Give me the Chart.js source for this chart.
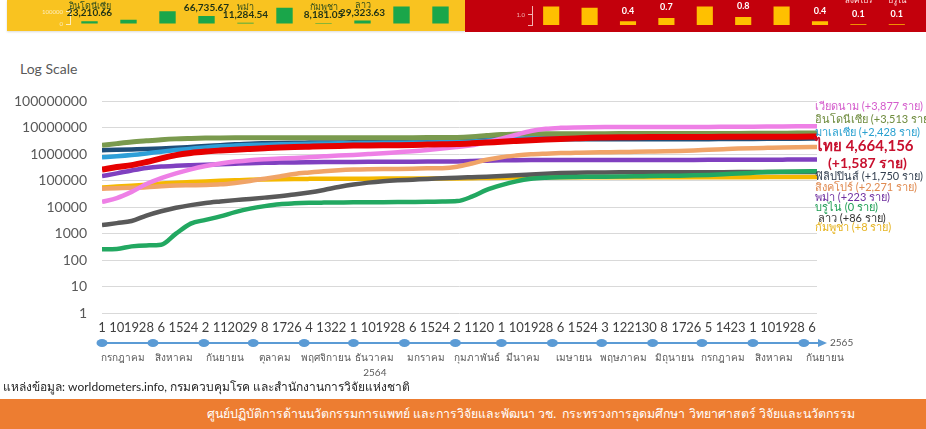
<!DOCTYPE html>
<html lang="th">
<head>
    <meta charset="UTF-8">
    <meta name="viewport" content="width=device-width, initial-scale=1.0">
    <title>ASEAN cumulative cases - Log Scale</title>
    <style>
        body {
            margin: 0;
            padding: 0;
            width: 926px;
            height: 429px;
            position: relative;
            overflow: hidden;
            background-color: #fff;
            font-family: Lato, "Noto Sans", sans-serif;
        }
        #yellowPanel {
            position: absolute;
            left: 7px;
            top: 0;
            width: 458px;
            height: 31px;
            background-color: #f9c320;
            box-shadow: 0 1px 2px rgba(0, 0, 0, 0.15);
        }
        #redPanel {
            position: absolute;
            left: 465px;
            top: 0;
            width: 461px;
            height: 32px;
            background-color: #c3000c;
        }
        #yellowChart { position: absolute; left: 0; top: 0; }
        #redChart { position: absolute; left: 465px; top: 0; }
        #mainChart { position: absolute; left: 0; top: 78px; }
        .title {
            position: absolute;
            left: 20px;
            top: 60px;
            font-size: 14px;
            color: #595959;
        }
        .tag {
            position: absolute;
            left: 815px;
            font-size: 11px;
            line-height: 12px;
            white-space: nowrap;
        }
        .big {
            font-size: 15px;
            line-height: 18px;
            font-weight: bold;
        }
        .source {
            position: absolute;
            left: 3px;
            top: 377px;
            font-size: 12px;
            color: #262626;
        }
        .footer {
            position: absolute;
            left: 0;
            top: 399px;
            width: 926px;
            height: 30px;
            background-color: #ed7d31;
            color: #fff;
            font-size: 12.3px;
            line-height: 30px;
            box-sizing: border-box;
            padding-left: 207px;
            white-space: nowrap;
        }
    </style>
</head>
<body>
    <div id="yellowPanel"></div>
    <div id="redPanel"></div>
    <canvas id="yellowChart" width="463" height="31"></canvas>
    <canvas id="redChart" width="461" height="32"></canvas>

    <div class="title">Log Scale</div>
    <canvas id="mainChart" width="926" height="310"></canvas>

    <div class="tag" style="top:100px;color:#d45ccc">เวียดนาม (+3,877 ราย)</div>
    <div class="tag" style="top:113px;color:#6e8b3d">อินโดนีเซีย (+3,513 ราย)</div>
    <div class="tag" style="top:126px;color:#2aa1d0">มาเลเซีย (+2,428 ราย)</div>
    <div class="tag big" style="top:136px;color:#c8102e">ไทย 4,664,156</div>
    <div class="tag big" style="top:154px;left:828px;font-size:14px;color:#c8102e">(+1,587 ราย)</div>
    <div class="tag" style="top:170px;color:#333f50">ฟิลิปปินส์ (+1,750 ราย)</div>
    <div class="tag" style="top:181px;color:#e08a50">สิงคโปร์ (+2,271 ราย)</div>
    <div class="tag" style="top:191px;color:#7030a0">พม่า (+223 ราย)</div>
    <div class="tag" style="top:201px;color:#1f9e55">บรูไน (0 ราย)</div>
    <div class="tag" style="top:212px;left:818px;color:#333">ลาว (+86 ราย)</div>
    <div class="tag" style="top:221px;color:#e6b422">กัมพูชา (+8 ราย)</div>

    <div class="source">แหล่งข้อมูล: worldometers.info, กรมควบคุมโรค และสำนักงานการวิจัยแห่งชาติ</div>
    <div class="footer">ศูนย์ปฏิบัติการด้านนวัตกรรมการแพทย์ และการวิจัยและพัฒนา วช.&nbsp; กระทรวงการอุดมศึกษา วิทยาศาสตร์ วิจัยและนวัตกรรม</div>

    <script src="https://cdn.jsdelivr.net/npm/chart.js@4.4.1/dist/chart.umd.min.js"></script>
    <script>
        const FONT = 'Lato, "Noto Sans", sans-serif';

        // x positions: days since 1 Jul 2021 (2564), last point is the latest report
        const dayOffsets = [0, 9, 18, 27, 36, 45, 54, 63, 72, 81, 90, 99, 108, 117, 126, 135, 144, 153, 162, 171,
            180, 189, 198, 207, 216, 225, 234, 243, 252, 261, 270, 279, 288, 297, 306, 315, 324, 333, 342, 351,
            360, 369, 378, 387, 396, 405, 414, 423, 432, 435];
        const tickDays = [1, 10, 19, 28, 6, 15, 24, 2, 11, 20, 29, 8, 17, 26, 4, 13, 22, 1, 10, 19, 28, 6, 15, 24,
            2, 11, 20, 1, 10, 19, 28, 6, 15, 24, 3, 12, 21, 30, 8, 17, 26, 5, 14, 23, 1, 10, 19, 28, 6];
        const monthStartDays = [0, 31, 62, 92, 123, 153, 184, 215, 243, 274, 304, 335, 365, 396, 427];
        const monthNames = ['กรกฎาคม', 'สิงหาคม', 'กันยายน', 'ตุลาคม', 'พฤศจิกายน', 'ธันวาคม', 'มกราคม',
            'กุมภาพันธ์', 'มีนาคม', 'เมษายน', 'พฤษภาคม', 'มิถุนายน', 'กรกฎาคม', 'สิงหาคม', 'กันยายน'];
        const yearLabels = ['2564', '2565'];
        const yTicks = [1, 10, 100, 1000, 10000, 100000, 1000000, 10000000, 100000000];

        // cumulative cases
        const thailand = [264000, 330000, 390000, 510000, 700000, 930000, 1120000, 1270000, 1390000, 1500000,
            1600000, 1700000, 1800000, 1880000, 1950000, 2020000, 2080000, 2130000, 2170000, 2200000,
            2220000, 2260000, 2330000, 2400000, 2460000, 2600000, 2780000, 3000000, 3200000, 3400000,
            3600000, 3800000, 4000000, 4200000, 4300000, 4380000, 4430000, 4470000, 4500000, 4520000,
            4540000, 4550000, 4570000, 4590000, 4610000, 4630000, 4640000, 4655000, 4662000, 4664156];
        const vietnam = [16000, 22000, 38000, 75000, 125000, 190000, 270000, 360000, 450000, 530000,
            600000, 650000, 690000, 730000, 780000, 840000, 900000, 950000, 1020000, 1100000,
            1200000, 1300000, 1450000, 1650000, 1900000, 2200000, 2900000, 3900000, 5500000, 7600000,
            9200000, 10000000, 10400000, 10600000, 10700000, 10730000, 10750000, 10760000, 10780000, 10800000,
            10820000, 10860000, 10910000, 10980000, 11100000, 11200000, 11300000, 11380000, 11430000, 11440000];
        const indonesia = [2180000, 2530000, 2910000, 3240000, 3570000, 3830000, 3980000, 4100000, 4150000, 4190000,
            4210000, 4225000, 4235000, 4242000, 4247000, 4251000, 4254000, 4257000, 4259000, 4261000,
            4262000, 4265000, 4271000, 4290000, 4350000, 4630000, 5100000, 5600000, 5800000, 5950000,
            6000000, 6030000, 6040000, 6045000, 6048000, 6050000, 6052000, 6054000, 6058000, 6065000,
            6075000, 6090000, 6120000, 6160000, 6200000, 6240000, 6280000, 6320000, 6355000, 6365000];
        const malaysia = [765000, 840000, 940000, 1080000, 1260000, 1440000, 1620000, 1820000, 2000000, 2130000,
            2240000, 2320000, 2390000, 2440000, 2500000, 2550000, 2600000, 2640000, 2670000, 2710000,
            2740000, 2770000, 2800000, 2840000, 2900000, 3050000, 3300000, 3600000, 3900000, 4050000,
            4200000, 4300000, 4380000, 4420000, 4450000, 4470000, 4490000, 4510000, 4530000, 4550000,
            4570000, 4600000, 4630000, 4670000, 4710000, 4740000, 4770000, 4790000, 4805000, 4808000];
        const philippines = [1430000, 1480000, 1530000, 1580000, 1660000, 1760000, 1900000, 2060000, 2210000, 2380000,
            2530000, 2620000, 2690000, 2740000, 2770000, 2800000, 2815000, 2830000, 2835000, 2840000,
            2850000, 2900000, 3120000, 3440000, 3590000, 3640000, 3660000, 3670000, 3675000, 3678000,
            3680000, 3682000, 3684000, 3686000, 3688000, 3690000, 3693000, 3697000, 3702000, 3710000,
            3722000, 3738000, 3760000, 3790000, 3820000, 3850000, 3880000, 3905000, 3925000, 3930000];
        const singapore = [50000, 52000, 54000, 57000, 62000, 66000, 67500, 69000, 73000, 83000,
            98000, 120000, 146000, 180000, 205000, 230000, 250000, 264000, 272000, 277000,
            280000, 286000, 295000, 300000, 340000, 450000, 620000, 780000, 900000, 1000000,
            1060000, 1110000, 1140000, 1170000, 1190000, 1210000, 1240000, 1270000, 1300000, 1340000,
            1400000, 1480000, 1560000, 1640000, 1700000, 1750000, 1800000, 1840000, 1870000, 1875000];
        const myanmar = [150000, 190000, 245000, 305000, 345000, 368000, 385000, 400000, 420000, 440000,
            460000, 475000, 485000, 495000, 502000, 508000, 512000, 516000, 519000, 521000,
            523000, 527000, 531000, 535000, 540000, 555000, 575000, 590000, 600000, 607000,
            610000, 611500, 612500, 613000, 613300, 613500, 613800, 614000, 614200, 614500,
            615000, 616000, 618000, 621000, 624000, 627000, 629000, 631000, 632500, 632700];
        const brunei = [259, 265, 330, 360, 380, 1000, 2400, 3300, 4500, 6500,
            8800, 11000, 13000, 14000, 14600, 14900, 15100, 15300, 15400, 15500,
            15600, 15700, 15900, 16400, 17000, 25000, 45000, 68000, 95000, 118000,
            130000, 136000, 139000, 141000, 143000, 145000, 147000, 150000, 153000, 156000,
            160000, 166000, 175000, 188000, 200000, 212000, 220000, 226000, 230000, 231000];
        const laos = [2100, 2500, 3000, 4800, 7000, 9500, 12000, 14500, 16500, 18500,
            20500, 23000, 26000, 30000, 36000, 45000, 58000, 72000, 85000, 96000,
            104000, 110000, 117000, 123000, 130000, 136000, 142000, 150000, 160000, 172000,
            185000, 195000, 201000, 204000, 206000, 207500, 208500, 209000, 209500, 210000,
            210500, 211000, 211500, 212000, 212500, 213000, 214000, 215000, 215500, 215800];
        const cambodia = [56000, 60000, 65000, 71000, 78000, 84000, 89000, 94000, 99000, 104000,
            109000, 112000, 114500, 116500, 117800, 118800, 119500, 120000, 120300, 120500,
            120600, 120800, 121200, 121800, 122800, 124500, 127000, 129500, 131500, 133000,
            134500, 135500, 136000, 136200, 136300, 136300, 136400, 136400, 136500, 136500,
            136600, 136700, 136800, 136900, 137100, 137300, 137500, 137700, 137800, 137800];

        // cropped bar panels above the chart
        const yellowValues = [23210.66, 36000, 105000, 66735.67, 11284.54, 135000, 8181.05, 29323.63, 180000, 180000];
        const yellowLabelled = [true, false, false, true, true, false, true, true, false, false];
        const yellowNames = ['อินโดนีเซีย', '', '', '', 'พม่า', '', 'กัมพูชา', 'ลาว', '', ''];
        const redValues = [2.5, 1.7, 0.4, 0.7, 2.5, 0.8, 2.5, 0.4, 0.1, 0.1];
        const redLabelled = [false, false, true, true, false, true, false, true, true, true];
        const redNames = ['', '', '', '', '', '', '', 'ลาว', 'สิงคโปร์', 'บรูไน'];

        const barLabels = {
            id: 'barLabels',
            afterDatasetsDraw(chart, args, opts) {
                const ctx = chart.ctx;
                const bars = chart.getDatasetMeta(0).data;
                ctx.save();
                ctx.textAlign = 'center';
                ctx.textBaseline = 'bottom';
                bars.forEach((bar, i) => {
                    if (!opts.labelled[i]) return;
                    const y = bar.y - opts.gap;
                    ctx.font = opts.valueFont;
                    ctx.fillStyle = opts.valueColor;
                    ctx.fillText(opts.format(opts.values[i]), bar.x, y);
                    if (opts.names[i]) {
                        ctx.font = opts.nameFont;
                        ctx.fillStyle = opts.nameColor;
                        ctx.fillText(opts.names[i], bar.x, y - opts.nameGap);
                    }
                });
                ctx.restore();
            }
        };

        function panelChart(id, values, barColor, yMax, yAxisTicks, axisWidth, padding, axisColor, tickFormat, labelOpts) {
            return new Chart(document.getElementById(id), {
                type: 'bar',
                data: {
                    labels: values.map((v, i) => i + 1),
                    datasets: [{
                        data: values,
                        backgroundColor: barColor,
                        categoryPercentage: 1,
                        barPercentage: 0.42
                    }]
                },
                options: {
                    responsive: false,
                    animation: false,
                    events: [],
                    layout: { padding: padding },
                    plugins: {
                        legend: { display: false },
                        tooltip: { enabled: false },
                        barLabels: labelOpts
                    },
                    scales: {
                        x: { display: false },
                        y: {
                            min: 0,
                            max: yMax,
                            afterFit: s => { s.width = axisWidth; },
                            afterBuildTicks: s => { s.ticks = yAxisTicks.map(v => ({ value: v })); },
                            grid: { drawOnChartArea: false, tickLength: 4, color: axisColor },
                            border: { color: axisColor },
                            ticks: { font: { size: 6, family: FONT }, color: axisColor, padding: 3, callback: tickFormat }
                        }
                    }
                },
                plugins: [barLabels]
            });
        }

        panelChart('yellowChart', yellowValues, '#1aa64a', 144000, [0, 100000], 70,
            { left: 0, right: 3, top: 0, bottom: 7 }, 'rgba(255,255,255,0.7)', v => String(v), {
                values: yellowValues, labelled: yellowLabelled, names: yellowNames,
                gap: 3, nameGap: 8,
                format: v => v.toLocaleString('en-US', { minimumFractionDigits: 2 }),
                valueFont: 'bold 10px ' + FONT, valueColor: '#1f3216',
                nameFont: '9px ' + FONT, nameColor: '#2f4d1c'
            });

        panelChart('redChart', redValues, '#ffc000', 1.8, [0, 1], 67,
            { left: 0, right: 10, top: 0, bottom: 5 }, '#f2b3b3', v => (v === 1 ? '1.0' : ''), {
                values: redValues, labelled: redLabelled, names: redNames,
                gap: 6, nameGap: 14,
                format: v => v.toFixed(1),
                valueFont: 'bold 9px ' + FONT, valueColor: '#ffffff',
                nameFont: '8px ' + FONT, nameColor: '#ffe6e6'
            });

        // month timeline under the day ticks
        const monthTimeline = {
            id: 'monthTimeline',
            afterDraw(chart) {
                const { ctx, chartArea, scales: { x } } = chart;
                const y = chartArea.bottom + 30;
                const xStart = x.getPixelForValue(monthStartDays[0]) - 3;
                const xEnd = x.getPixelForValue(x.max) + 1;
                ctx.save();
                ctx.strokeStyle = '#5b9bd5';
                ctx.fillStyle = '#5b9bd5';
                ctx.lineWidth = 2;
                ctx.beginPath();
                ctx.moveTo(xStart, y);
                ctx.lineTo(xEnd, y);
                ctx.stroke();
                ctx.beginPath();
                ctx.moveTo(xEnd + 9, y);
                ctx.lineTo(xEnd, y - 4);
                ctx.lineTo(xEnd, y + 4);
                ctx.closePath();
                ctx.fill();
                monthStartDays.forEach(d => {
                    ctx.beginPath();
                    ctx.ellipse(x.getPixelForValue(d), y, 5.5, 4, 0, 0, Math.PI * 2);
                    ctx.fill();
                });
                ctx.fillStyle = '#595959';
                ctx.font = '10px ' + FONT;
                ctx.textAlign = 'center';
                ctx.textBaseline = 'middle';
                monthNames.forEach((m, i) => {
                    ctx.fillText(m, x.getPixelForValue(monthStartDays[i] + 13), y + 15);
                });
                ctx.fillText(yearLabels[0], x.getPixelForValue(monthStartDays[5] + 13), y + 30);
                ctx.textAlign = 'left';
                ctx.fillText(yearLabels[1], xEnd + 12, y);
                ctx.restore();
            }
        };

        function series(label, values, color, width) {
            return {
                label: label,
                data: values.map((v, i) => ({ x: dayOffsets[i], y: v })),
                borderColor: color,
                backgroundColor: color,
                borderWidth: width,
                pointRadius: 0,
                tension: 0.4,
                cubicInterpolationMode: 'monotone',
                fill: false
            };
        }

        new Chart(document.getElementById('mainChart'), {
            type: 'line',
            data: {
                datasets: [
                    series('ไทย', thailand, '#e60000', 6),
                    series('เวียดนาม', vietnam, '#ee80e6', 4.5),
                    series('อินโดนีเซีย', indonesia, '#7a9a4e', 5),
                    series('มาเลเซีย', malaysia, '#2e9fd8', 4.5),
                    series('ฟิลิปปินส์', philippines, '#1f4e79', 4.5),
                    series('สิงคโปร์', singapore, '#f0a468', 4.5),
                    series('พม่า', myanmar, '#8040c0', 4.5),
                    series('บรูไน', brunei, '#22a861', 4.5),
                    series('ลาว', laos, '#595959', 4.5),
                    series('กัมพูชา', cambodia, '#f5b800', 4.5)
                ]
            },
            options: {
                responsive: false,
                animation: false,
                events: [],
                layout: { padding: { left: 0, right: 109, top: 3, bottom: 0 } },
                plugins: {
                    legend: { display: false },
                    tooltip: { enabled: false }
                },
                scales: {
                    x: {
                        type: 'linear',
                        min: 0,
                        max: 435,
                        afterFit: s => { s.height = 75; },
                        afterBuildTicks: s => { s.ticks = tickDays.map((d, i) => ({ value: dayOffsets[i] })); },
                        grid: { display: false, drawTicks: false },
                        border: { display: false },
                        ticks: {
                            autoSkip: false,
                            maxRotation: 0,
                            minRotation: 0,
                            padding: 7,
                            color: '#404040',
                            font: { size: 13, family: FONT },
                            callback: (v, i) => tickDays[i]
                        }
                    },
                    y: {
                        type: 'logarithmic',
                        min: 1,
                        max: 100000000,
                        afterFit: s => { s.width = 102; },
                        afterBuildTicks: s => { s.ticks = yTicks.map(v => ({ value: v })); },
                        grid: { color: '#d9d9d9', lineWidth: 1, drawTicks: false },
                        border: { display: false },
                        ticks: {
                            padding: 15,
                            color: '#595959',
                            font: { size: 14, family: FONT },
                            callback: v => String(v)
                        }
                    }
                }
            },
            plugins: [monthTimeline]
        });
    </script>
</body>
</html>
